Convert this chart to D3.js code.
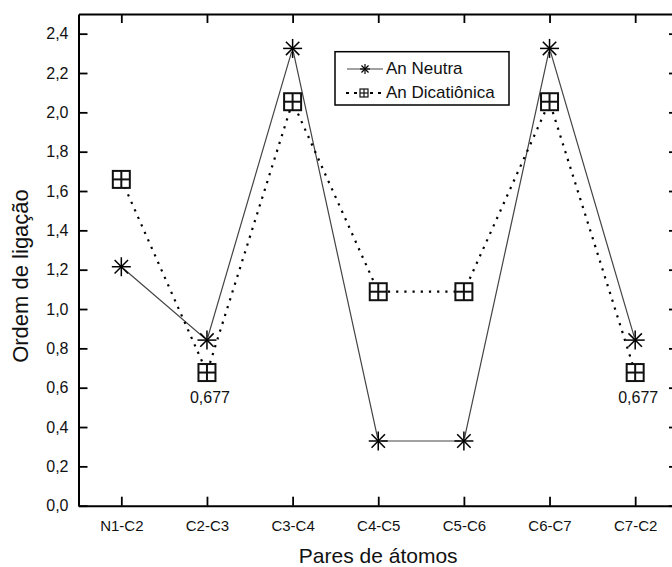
<!DOCTYPE html>
<html>
<head>
<meta charset="utf-8">
<script src="https://cdn.jsdelivr.net/npm/d3@7"></script>
<style>
  html, body { margin: 0; padding: 0; background: #fff; }
  svg { display: block; font-family: "Liberation Sans", Arial, sans-serif; }
</style>
</head>
<body>
<svg id="chart" width="672" height="567"></svg>
<script>
// Bond pairs along the ring
const categories = ["N1-C2", "C2-C3", "C3-C4", "C4-C5", "C5-C6", "C6-C7", "C7-C2"];
// Bond order, neutral species
const neutra = [1.215, 0.842, 2.325, 0.329, 0.329, 2.325, 0.842];
// Bond order, dication
const dicationica = [1.659, 0.677, 2.054, 1.088, 1.088, 2.054, 0.677];
// Values printed next to selected dication points
const valueLabels = [
  { cat: "C2-C3", value: 0.677 },
  { cat: "C7-C2", value: 0.677 }
];
const yTicks = [0, 0.2, 0.4, 0.6, 0.8, 1.0, 1.2, 1.4, 1.6, 1.8, 2.0, 2.2, 2.4];
const seriesNames = ["An Neutra", "An Dicatiônica"];

const svg = d3.select("#chart");
const plotLeft = 78.5, plotRight = 678, plotTop = 14, plotBottom = 505.7;

const x = d3.scalePoint().domain(categories).range([plotLeft, plotRight]).padding(0.5);
const y = d3.scaleLinear().domain([0, 2.5]).range([plotBottom, plotTop]);

const comma = d => d3.format(".1f")(d).replace(".", ",");
const TICK = 9;

function styleAxis(g, fontSize) {
  g.select(".domain").attr("stroke", "#000").attr("stroke-width", 2);
  g.selectAll(".tick line").attr("stroke", "#000").attr("stroke-width", 1.8);
  g.selectAll(".tick text").attr("fill", "#111").attr("font-size", fontSize)
    .attr("font-family", "Liberation Sans, Arial, sans-serif");
}

// Left axis
svg.append("g").attr("transform", `translate(${plotLeft},0)`)
  .call(d3.axisLeft(y).tickValues(yTicks).tickFormat(comma)
    .tickSizeInner(-TICK).tickSizeOuter(0).tickPadding(10))
  .call(g => styleAxis(g, 16));

// Right frame axis
svg.append("g").attr("transform", `translate(${plotRight},0)`)
  .call(d3.axisRight(y).tickValues(yTicks).tickFormat("")
    .tickSizeInner(-TICK).tickSizeOuter(0))
  .call(g => styleAxis(g, 16));

// Bottom axis
svg.append("g").attr("transform", `translate(0,${plotBottom})`)
  .call(d3.axisBottom(x).tickSizeInner(-TICK).tickSizeOuter(0).tickPadding(14.5))
  .call(g => styleAxis(g, 15));

// Top frame axis
svg.append("g").attr("transform", `translate(0,${plotTop})`)
  .call(d3.axisTop(x).tickFormat("").tickSizeInner(-TICK).tickSizeOuter(0))
  .call(g => styleAxis(g, 15));

// Axis titles
svg.append("text")
  .attr("x", (plotLeft + plotRight) / 2).attr("y", 563)
  .attr("text-anchor", "middle").attr("font-size", 21).attr("fill", "#111")
  .text("Pares de átomos");

svg.append("text")
  .attr("transform", "translate(28,276) rotate(-90)")
  .attr("text-anchor", "middle").attr("font-size", 22).attr("fill", "#111")
  .text("Ordem de ligação");

// Series lines
const seriesLine = d3.line().x((d, i) => x(categories[i])).y(d => y(d));

svg.append("path").datum(neutra)
  .attr("d", seriesLine).attr("fill", "none")
  .attr("stroke", "#444").attr("stroke-width", 1.2);

svg.append("path").datum(dicationica)
  .attr("d", seriesLine).attr("fill", "none")
  .attr("stroke", "#000").attr("stroke-width", 2.2)
  .attr("stroke-dasharray", "2.2 6").attr("stroke-linecap", "butt");

// Markers
function star(g, cx, cy, r, sw) {
  const a = r * Math.SQRT1_2;
  const segs = [[-r, 0, r, 0], [0, -r, 0, r], [-a, -a, a, a], [-a, a, a, -a]];
  g.append("circle").attr("cx", cx).attr("cy", cy).attr("r", r * 0.35).attr("fill", "#fff");
  segs.forEach(s => g.append("line")
    .attr("x1", cx + s[0]).attr("y1", cy + s[1]).attr("x2", cx + s[2]).attr("y2", cy + s[3])
    .attr("stroke", "#000").attr("stroke-width", sw));
}
function boxPlus(g, cx, cy, h, sw) {
  g.append("rect").attr("x", cx - h).attr("y", cy - h).attr("width", 2 * h).attr("height", 2 * h)
    .attr("fill", "#fff").attr("stroke", "#111").attr("stroke-width", sw);
  g.append("line").attr("x1", cx - h).attr("x2", cx + h).attr("y1", cy).attr("y2", cy)
    .attr("stroke", "#111").attr("stroke-width", sw);
  g.append("line").attr("x1", cx).attr("x2", cx).attr("y1", cy - h).attr("y2", cy + h)
    .attr("stroke", "#111").attr("stroke-width", sw);
}

const markers = svg.append("g");
dicationica.forEach((v, i) => boxPlus(markers, x(categories[i]), y(v), 8.5, 2));
neutra.forEach((v, i) => star(markers, x(categories[i]), y(v), 9.5, 1.5));

// Value labels
svg.append("g").selectAll("text").data(valueLabels).join("text")
  .attr("x", d => x(d.cat) + 3).attr("y", d => y(d.value) + 30)
  .attr("text-anchor", "middle").attr("font-size", 16).attr("fill", "#111")
  .text(d => d.value.toString().replace(".", ","));

// Legend
const lg = svg.append("g");
lg.append("rect").attr("x", 335).attr("y", 51.7).attr("width", 174).attr("height", 53.3)
  .attr("fill", "#fff").attr("stroke", "#000").attr("stroke-width", 1.5);
const rows = [74, 98];
lg.append("line").attr("x1", 347).attr("x2", 383).attr("y1", rows[0] - 5).attr("y2", rows[0] - 5)
  .attr("stroke", "#444").attr("stroke-width", 1.2);
star(lg, 365, rows[0] - 5, 5, 1.2);
lg.append("line").attr("x1", 346).attr("x2", 383).attr("y1", rows[1] - 5).attr("y2", rows[1] - 5)
  .attr("stroke", "#000").attr("stroke-width", 2).attr("stroke-dasharray", "3 5");
boxPlus(lg, 364, rows[1] - 5, 4, 1.2);
seriesNames.forEach((name, i) => lg.append("text")
  .attr("x", 386).attr("y", rows[i]).attr("font-size", 17).attr("fill", "#111").text(name));
</script>
</body>
</html>
